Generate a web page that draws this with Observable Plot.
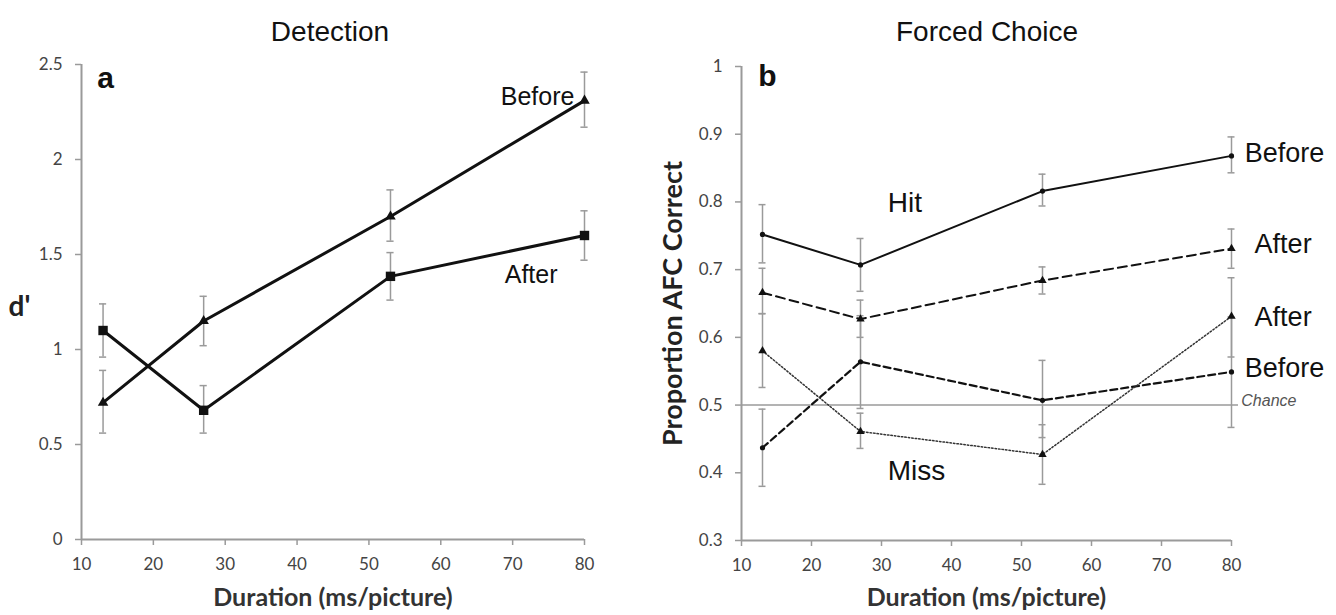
<!DOCTYPE html>
<html>
<head>
<meta charset="utf-8">
<script src="https://cdn.jsdelivr.net/npm/d3@7"></script>
<script src="https://cdn.jsdelivr.net/npm/@observablehq/plot@0.6"></script>
<style>
  html, body { margin: 0; padding: 0; background: #fff; }
  #wrap { position: relative; width: 1336px; height: 615px; overflow: hidden; }
  .panel { position: absolute; top: 0; }
  .title { position: absolute; top: 15px; font-family: "Liberation Sans", Arial, sans-serif; font-size: 28px; line-height: 34px; color: #111; transform: translateX(-50%); white-space: nowrap; }
</style>
</head>
<body>
<div id="wrap">
  <div class="title" style="left:330px">Detection</div>
  <div class="title" style="left:987px">Forced Choice</div>
  <div id="left" class="panel" style="left:0px"></div>
  <div id="right" class="panel" style="left:668px"></div>
</div>
<script>
// ---- data ----
const durations = [13, 27, 53, 80];
const xTicks = [10, 20, 30, 40, 50, 60, 70, 80];
const dTicks = [0, 0.5, 1, 1.5, 2, 2.5];
const afcTicks = [0.3, 0.4, 0.5, 0.6, 0.7, 0.8, 0.9, 1];

// Detection (d')
const detBefore   = [0.72, 1.15, 1.70, 2.31];
const detBeforeLo = [0.56, 1.02, 1.57, 2.17];
const detBeforeHi = [0.89, 1.28, 1.84, 2.46];
const detAfter    = [1.10, 0.68, 1.385, 1.60];
const detAfterLo  = [0.96, 0.56, 1.26, 1.47];
const detAfterHi  = [1.24, 0.81, 1.51, 1.73];

// Forced choice (proportion AFC correct)
const hitBefore    = [0.752, 0.707, 0.816, 0.868];
const hitBeforeLo  = [0.710, 0.668, 0.794, 0.843];
const hitBeforeHi  = [0.796, 0.746, 0.841, 0.896];
const hitAfter     = [0.666, 0.627, 0.684, 0.731];
const hitAfterLo   = [0.635, 0.600, 0.664, 0.702];
const hitAfterHi   = [0.702, 0.655, 0.704, 0.760];
const missAfter    = [0.580, 0.461, 0.427, 0.631];
const missAfterLo  = [0.526, 0.436, 0.383, 0.571];
const missAfterHi  = [0.635, 0.488, 0.471, 0.688];
const missBefore   = [0.437, 0.564, 0.507, 0.549];
const missBeforeLo = [0.380, 0.495, 0.452, 0.467];
const missBeforeHi = [0.494, 0.632, 0.566, 0.630];
const chance = 0.5;

const rows = (v, lo, hi) => durations.map((x, i) => ({x, y: v[i], lo: lo[i], hi: hi[i]}));

const AX = "#9a9a9a";
const TXT = "#444";
const ARIAL = "Liberation Sans, Arial, sans-serif";
const fmt = d3.format("~g");

function errorMarks(data) {
  return [
    Plot.ruleX(data, {x: "x", y1: "lo", y2: "hi", stroke: AX, strokeWidth: 1.5}),
    Plot.ruleY(data, {y: "lo", x1: d => d.x - 0.5, x2: d => d.x + 0.5, stroke: AX, strokeWidth: 1.5}),
    Plot.ruleY(data, {y: "hi", x1: d => d.x - 0.5, x2: d => d.x + 0.5, stroke: AX, strokeWidth: 1.5})
  ];
}

function axes(yTicks, yDomain) {
  return [
    Plot.ruleX([10], {stroke: AX, strokeWidth: 2}),
    Plot.ruleY([yDomain[0]], {stroke: AX, strokeWidth: 2}),
    Plot.axisX({ticks: xTicks, tickSize: 6, tickPadding: 12, stroke: AX, strokeWidth: 1.5, fill: TXT, fontSize: 17, tickFormat: fmt, label: null}),
    Plot.axisY({ticks: yTicks, tickSize: 6, tickPadding: 13, stroke: AX, strokeWidth: 1.5, fill: TXT, fontSize: 17, tickFormat: fmt, label: null})
  ];
}

// ---- left panel ----
const dB = rows(detBefore, detBeforeLo, detBeforeHi);
const dA = rows(detAfter, detAfterLo, detAfterHi);
const left = Plot.plot({
  width: 668, height: 615,
  marginLeft: 81, marginRight: 84, marginTop: 64, marginBottom: 76,
  style: {fontFamily: "Lato, sans-serif", background: "transparent", overflow: "visible"},
  x: {domain: [10, 80]},
  y: {domain: [0, 2.5]},
  marks: [
    ...axes(dTicks, [0, 2.5]),
    ...errorMarks(dB),
    ...errorMarks(dA),
    Plot.line(dB, {x: "x", y: "y", stroke: "#111", strokeWidth: 3}),
    Plot.line(dA, {x: "x", y: "y", stroke: "#111", strokeWidth: 3}),
    Plot.dot(dB, {x: "x", y: "y", symbol: "triangle", r: 3.9, fill: "#111", stroke: "none"}),
    Plot.dot(dA, {x: "x", y: "y", symbol: "square", r: 5.3, fill: "#111", stroke: "none"}),
    Plot.text(["Before"], {x: 78.6, y: 2.33, text: d => d, textAnchor: "end", fontSize: 25, fontFamily: ARIAL, fill: "#111"}),
    Plot.text(["After"], {x: 68.9, y: 1.39, text: d => d, textAnchor: "start", fontSize: 25, fontFamily: ARIAL, fill: "#111"}),
    Plot.text(["a"], {frameAnchor: "top-left", dx: 24, dy: 14, textAnchor: "middle", lineAnchor: "middle", text: d => d, fontSize: 30, fontWeight: "bold", fontFamily: ARIAL, fill: "#111"}),
    Plot.text(["d'"], {frameAnchor: "left", dx: -62, dy: 5, textAnchor: "middle", lineAnchor: "middle", text: d => d, fontSize: 28, fontWeight: "bold", fontFamily: "Lato, sans-serif", fill: "#222"}),
    Plot.text(["Duration (ms/picture)"], {frameAnchor: "bottom", dy: 58, lineAnchor: "middle", text: d => d, fontSize: 25, fontWeight: "bold", fontFamily: "Lato, sans-serif", fill: "#333"})
  ]
});
document.getElementById("left").appendChild(left);

// ---- right panel ----
const hB = rows(hitBefore, hitBeforeLo, hitBeforeHi);
const hA = rows(hitAfter, hitAfterLo, hitAfterHi);
const mA = rows(missAfter, missAfterLo, missAfterHi);
const mB = rows(missBefore, missBeforeLo, missBeforeHi);
const right = Plot.plot({
  width: 668, height: 615,
  marginLeft: 73, marginRight: 105, marginTop: 66, marginBottom: 75,
  style: {fontFamily: "Lato, sans-serif", background: "transparent", overflow: "visible"},
  x: {domain: [10, 80]},
  y: {domain: [0.3, 1]},
  marks: [
    ...axes(afcTicks, [0.3, 1]),
    Plot.ruleY([chance], {x1: 10, x2: 81, stroke: AX, strokeWidth: 1.5}),
    ...errorMarks(hB),
    ...errorMarks(hA),
    ...errorMarks(mA),
    ...errorMarks(mB),
    Plot.line(hB, {x: "x", y: "y", stroke: "#111", strokeWidth: 2}),
    Plot.line(hA, {x: "x", y: "y", stroke: "#111", strokeWidth: 2, strokeDasharray: "9,5"}),
    Plot.line(mB, {x: "x", y: "y", stroke: "#111", strokeWidth: 2.2, strokeDasharray: "7,4"}),
    Plot.line(mA, {x: "x", y: "y", stroke: "#333", strokeWidth: 1.5, strokeDasharray: "1.5,2"}),
    Plot.dot(hB, {x: "x", y: "y", r: 2.6, fill: "#111", stroke: "none"}),
    Plot.dot(mB, {x: "x", y: "y", r: 2.6, fill: "#111", stroke: "none"}),
    Plot.dot(hA, {x: "x", y: "y", symbol: "triangle", r: 3.1, fill: "#111", stroke: "none"}),
    Plot.dot(mA, {x: "x", y: "y", symbol: "triangle", r: 3.1, fill: "#111", stroke: "none"}),
    Plot.text(["Before"], {x: 81.9, y: 0.871, text: d => d, textAnchor: "start", fontSize: 27, fontFamily: ARIAL, fill: "#111"}),
    Plot.text(["After"], {x: 83.3, y: 0.737, text: d => d, textAnchor: "start", fontSize: 27, fontFamily: ARIAL, fill: "#111"}),
    Plot.text(["After"], {x: 83.3, y: 0.629, text: d => d, textAnchor: "start", fontSize: 27, fontFamily: ARIAL, fill: "#111"}),
    Plot.text(["Before"], {x: 81.9, y: 0.554, text: d => d, textAnchor: "start", fontSize: 27, fontFamily: ARIAL, fill: "#111"}),
    Plot.text(["Chance"], {x: 81.4, y: 0.506, text: d => d, textAnchor: "start", fontSize: 16, fontStyle: "italic", fontFamily: ARIAL, fill: "#555"}),
    Plot.text(["Hit"], {x: 30.9, y: 0.799, text: d => d, textAnchor: "start", fontSize: 28, fontFamily: ARIAL, fill: "#111"}),
    Plot.text(["Miss"], {x: 30.9, y: 0.402, text: d => d, textAnchor: "start", fontSize: 28, fontFamily: ARIAL, fill: "#111"}),
    Plot.text(["b"], {frameAnchor: "top-left", dx: 26, dy: 10, textAnchor: "middle", lineAnchor: "middle", text: d => d, fontSize: 30, fontWeight: "bold", fontFamily: ARIAL, fill: "#111"}),
    Plot.text(["Proportion AFC Correct"], {frameAnchor: "left", dx: -68, dy: 0, rotate: -90, textAnchor: "middle", lineAnchor: "middle", text: d => d, fontSize: 27, fontWeight: "bold", fontFamily: "Lato, sans-serif", fill: "#222"}),
    Plot.text(["Duration (ms/picture)"], {frameAnchor: "bottom", dy: 57, lineAnchor: "middle", text: d => d, fontSize: 25, fontWeight: "bold", fontFamily: "Lato, sans-serif", fill: "#333"})
  ]
});
document.getElementById("right").appendChild(right);
</script>
</body>
</html>
